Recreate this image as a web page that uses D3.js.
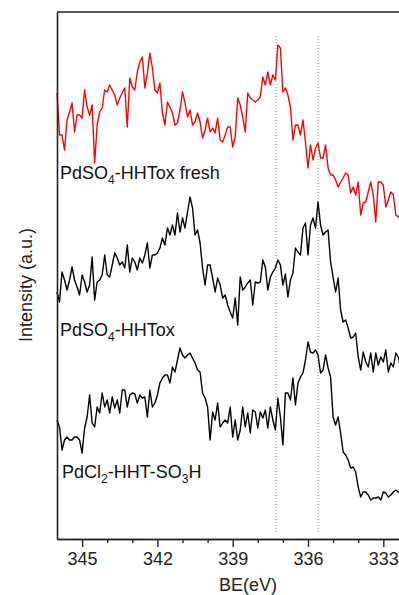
<!DOCTYPE html>
<html><head><meta charset="utf-8">
<script src="https://cdn.jsdelivr.net/npm/d3@7"></script>
<style>
html,body{margin:0;padding:0;background:#fff;}
svg{display:block;font-family:Arial,"Liberation Sans",sans-serif;}
</style></head>
<body><svg id="c" width="399" height="595"></svg>
<script>
// Binding energy grid (eV), 0.1 eV step from 346.0 down to 332.3
const beStart = 346.0, beStep = 0.1;
// Intensities (a.u.) for each spectrum, one value per grid point
const freshPdSO4 = [446,404,404,389,419,427,436,407,424,424,421,449,432,424,434,376,414,427,431,449,447,454,449,444,434,441,446,451,412,461,452,449,467,477,482,451,466,486,471,449,446,456,426,414,437,432,426,414,416,429,447,436,422,429,414,417,426,417,401,409,421,407,411,406,421,399,397,404,412,
412,392,402,441,434,422,407,446,441,439,437,439,442,462,454,467,454,464,459,494,491,447,451,444,432,399,414,414,404,419,397,371,394,379,391,396,381,381,394,371,364,364,359,352,357,361,366,364,346,352,344,357,324,336,337,347,357,344,317,357,357,354,332,339,347,344,324,322,324];
const pdSO4 = [247,237,267,259,249,259,272,259,252,244,264,257,247,254,282,239,257,259,264,284,264,262,274,286,281,274,277,271,294,267,281,277,269,281,276,284,296,271,284,284,286,291,301,294,311,304,314,304,326,307,321,311,327,342,331,304,309,296,271,254,274,274,261,247,261,254,241,244,234,
227,221,241,214,262,249,252,256,259,234,257,256,257,279,272,249,262,267,271,279,274,254,265,242,259,266,291,287,284,311,316,284,314,321,311,337,314,304,307,309,277,262,247,261,229,217,219,211,201,202,206,182,169,187,177,172,186,167,186,174,182,177,189,167,176,172,186,182,169];
const pdCl2 = [119,112,89,99,102,99,99,102,102,99,86,111,122,144,116,112,132,126,146,132,139,126,142,131,139,126,149,149,132,144,146,145,136,144,141,142,122,149,132,136,144,156,161,164,164,156,172,167,179,191,184,181,184,186,181,176,169,167,146,141,132,99,127,119,136,112,116,119,116,
132,102,119,99,109,132,112,126,106,129,127,111,127,121,129,111,132,119,109,141,122,94,146,146,139,161,134,156,162,166,179,197,187,186,189,184,166,169,184,171,162,122,114,122,106,87,84,79,71,72,67,52,42,47,47,44,39,41,41,42,39,47,46,42,44,47,49,47,49];
const seriesNames = ["PdSO\u2084-HHTox fresh", "PdSO\u2084-HHTox", "PdCl\u2082-HHT-SO\u2083H"];
const seriesColors = ["#ff0000", "#000000", "#000000"];
const refLines = [337.27, 335.6];           // dotted reference lines (eV)
const majorTicks = [345, 342, 339, 336, 333];
const minorTicks = [344, 343, 341, 340, 338, 337, 335, 334];
const xTitle = "BE(eV)", yTitle = "Intensity (a.u.)";

const svg = d3.select("#c");
const L = 57, T = 12, B = 539, R = 408.4;
const x = d3.scaleLinear().domain([346, 332]).range([L, R]);
const y = d3.scaleLinear().domain([0, 527]).range([B, T]);

const be = i => beStart - beStep * i;
const line = d3.line().x((d, i) => x(be(i))).y(d => y(d));

// reference dotted lines
svg.selectAll("line.ref").data(refLines).enter().append("line")
  .attr("x1", d => x(d)).attr("x2", d => x(d))
  .attr("y1", y(503)).attr("y2", y(7))
  .attr("stroke", "#9a9a9a").attr("stroke-width", 1).attr("stroke-dasharray", "1,2");

// spectra
[freshPdSO4, pdSO4, pdCl2].forEach((s, k) => {
  svg.append("path").datum(s).attr("d", line)
    .attr("fill", "none").attr("stroke", seriesColors[k])
    .attr("stroke-width", 1.4).attr("stroke-linejoin", "round");
});

// axes
const gx = svg.append("g").attr("transform", `translate(0,${B})`);
gx.call(d3.axisBottom(x).tickValues(minorTicks).tickSize(4).tickSizeOuter(0).tickFormat(""));
const gx2 = svg.append("g").attr("transform", `translate(0,${B})`);
gx2.call(d3.axisBottom(x).tickValues(majorTicks).tickSize(8).tickSizeOuter(0).tickPadding(5).tickFormat(d3.format("d")));
[gx, gx2].forEach(g => {
  g.select(".domain").attr("stroke", "#222").attr("stroke-width", 1.6);
  g.selectAll(".tick line").attr("stroke", "#222").attr("stroke-width", 1.4);
});
gx2.selectAll(".tick text").attr("font-size", 18).attr("fill", "#222").attr("font-family", "Arial, 'Liberation Sans', sans-serif");

const gy = svg.append("g").attr("transform", `translate(${L},0)`);
gy.call(d3.axisLeft(y).tickValues([]).tickSizeOuter(0));
gy.select(".domain").attr("stroke", "#222").attr("stroke-width", 1.6);

svg.append("line").attr("x1", L).attr("x2", R).attr("y1", T).attr("y2", T)
  .attr("stroke", "#222").attr("stroke-width", 1.6);

// series labels with subscripts
const labelPos = [[60, 179], [60, 336], [62, 478]];
const parts = [
  [["PdSO", 0], ["4", 1], ["-HHTox fresh", 0]],
  [["PdSO", 0], ["4", 1], ["-HHTox", 0]],
  [["PdCl", 0], ["2", 1], ["-HHT-SO", 0], ["3", 1], ["H", 0]]
];
parts.forEach((p, k) => {
  const t = svg.append("text").attr("x", labelPos[k][0]).attr("y", labelPos[k][1])
    .attr("font-size", 18).attr("fill", "#111").attr("aria-label", seriesNames[k]);
  let shift = 0;
  p.forEach(([txt, sub]) => {
    const ts = t.append("tspan").text(txt);
    if (sub) { ts.attr("font-size", 12).attr("dy", 5 - shift); shift = 5; }
    else if (shift) { ts.attr("dy", -shift); shift = 0; }
  });
});

// axis titles
svg.append("text").attr("x", 248).attr("y", 591).attr("text-anchor", "middle")
  .attr("font-size", 18).attr("fill", "#222").text(xTitle);
svg.append("text").attr("transform", "translate(32,285) rotate(-90)").attr("text-anchor", "middle")
  .attr("font-size", 18).attr("fill", "#222").text(yTitle);
</script></body></html>
